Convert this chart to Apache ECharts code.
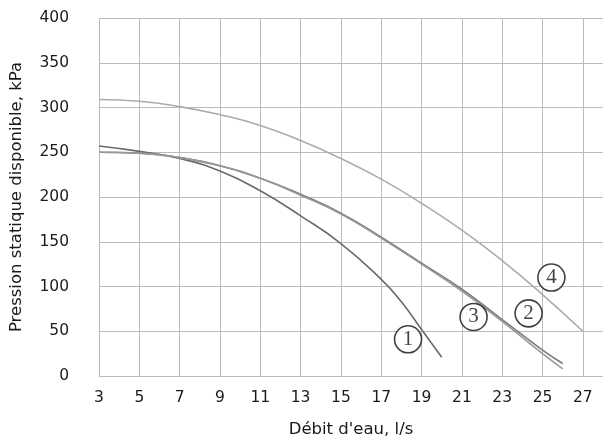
<!DOCTYPE html>
<html>
<head>
<meta charset="utf-8">
<script src="https://cdn.jsdelivr.net/npm/echarts@6/dist/echarts.min.js"></script>
<style>html,body{margin:0;padding:0;background:#fff}#c{width:606px;height:443px}</style>
</head>
<body>
<div id="c"></div>
<script>
var xTicks = [3, 5, 7, 9, 11, 13, 15, 17, 19, 21, 23, 25, 27];
var curve1 = [[3,257],[5,251],[7,243],[9,229],[11,207],[13,179],[15,148],[17,108],[18,83],[19,52],[20,21]];
var curve2 = [[3,250],[5,249],[7,244],[9,235],[11,221],[13,203],[15,182],[17,155],[19,126],[21,97],[23,63],[25,29],[26,14]];
var curve3 = [[3,250],[5,249],[7,244],[9,235],[11,221],[13,202],[15,181],[17,154],[19,125],[21,95],[23,61],[25,25],[26,8]];
var curve4 = [[3,309],[5,307],[7,301],[9,292],[11,280],[13,263],[15,243],[17,220],[19,193],[21,163],[23,129],[25,91],[27,50]];
var labelNames = ['1', '2', '3', '4'];
var labelPoints = [[18.33,41],[24.31,70],[21.58,66],[25.44,110]];

var chart = echarts.init(document.getElementById('c'), null, {renderer: 'canvas'});
var font = '"DejaVu Sans", sans-serif';
function line(name, data, color, w) {
  return {name: name, type: 'line', data: data, smooth: 0.5, showSymbol: false, symbol: 'none',
    lineStyle: {color: color, width: w}, z: 3, animation: false};
}
chart.setOption({
  animation: false,
  backgroundColor: '#fff',
  grid: {left: 98, right: -2, top: 18, bottom: 65, containLabel: false},
  xAxis: {
    type: 'value', min: 3, max: 28, interval: 1,
    name: "Débit d'eau, l/s", nameLocation: 'middle', nameGap: 45,
    nameTextStyle: {fontFamily: font, fontSize: 16.5, color: '#1a1a1a'},
    axisLine: {show: false}, axisTick: {show: false},
    axisLabel: {fontFamily: font, fontSize: 15.5, color: '#1a1a1a', margin: 14,
      formatter: function (v) { return xTicks.indexOf(v) >= 0 ? String(v) : ''; }},
    splitLine: {show: true, lineStyle: {color: ['#bbbbbb', 'rgba(0,0,0,0)'], width: 1}}
  },
  yAxis: {
    type: 'value', min: 0, max: 400, interval: 50,
    name: 'Pression statique disponible, kPa', nameLocation: 'middle', nameGap: 74,
    nameTextStyle: {fontFamily: font, fontSize: 16.5, color: '#1a1a1a'},
    axisLine: {show: false}, axisTick: {show: false},
    axisLabel: {fontFamily: font, fontSize: 15.5, color: '#1a1a1a', margin: 30},
    splitLine: {show: true, lineStyle: {color: '#bbbbbb', width: 1}}
  },
  series: [
    line('1', curve1, '#6a6a6a', 1.6),
    line('2', curve2, '#7a7a7a', 1.6),
    line('3', curve3, '#989898', 1.6),
    line('4', curve4, '#ababab', 1.6),
    {
      type: 'scatter', animation: false, z: 5,
      data: labelPoints.map(function (p, i) { return {value: p, name: labelNames[i]}; }),
      symbol: 'circle', symbolSize: 27,
      itemStyle: {color: '#fff', borderColor: '#111', borderWidth: 1.6},
      label: {show: true, position: 'inside', formatter: '{b}',
        fontFamily: '"Liberation Serif", "Times New Roman", serif', fontSize: 21, color: '#111'}
    }
  ]
});
</script>
</body>
</html>
